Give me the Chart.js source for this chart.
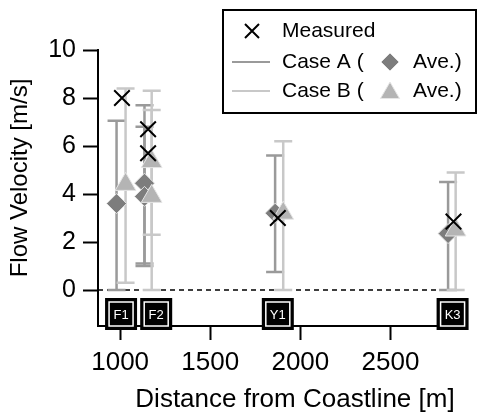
<!DOCTYPE html>
<html>
<head>
<meta charset="utf-8">
<script src="https://cdn.jsdelivr.net/npm/chart.js@4"></script>
<style>
  body { margin: 0; background: #fff; }
  #wrap { width: 480px; height: 413px; }
</style>
</head>
<body>
<div id="wrap"><canvas id="flowChart" width="480" height="413"></canvas></div>
<script>
// Dados
const measDist = [1010, 1155, 1155, 1875, 2850];
const measVel = [8.0, 6.7, 5.7, 3.0, 2.85];

const caseADist = [980, 1135, 1135, 1860, 2820];
const caseAAve = [3.6, 4.45, 3.9, 3.2, 2.35];
const caseAMin = [0, 1.1, 1.0, 0.75, 0];
const caseAMax = [7.05, 7.7, 6.8, 5.6, 4.5];

const caseBDist = [1030, 1175, 1175, 1905, 2862];
const caseBAve = [4.4, 5.35, 3.9, 3.2, 2.5];
const caseBMin = [0.3, 2.3, 0, 0, 0];
const caseBMax = [8.4, 8.3, 7.5, 6.2, 4.9];

const stationNames = ['F1', 'F2', 'Y1', 'K3'];
const stationDist = [1005, 1200, 1875, 2845];

const xTicks = [1000, 1500, 2000, 2500];
const yTicks = [0, 2, 4, 6, 8, 10];

const FONT = "'Liberation Sans', Arial, sans-serif";
const colorA = '#7d7d7d', colorABar = '#9a9a9a';
const colorB = '#b4b4b4', colorBBar = '#c8c8c8';

function toPoints(xs, ys) {
    return xs.map((x, i) => ({ x: x, y: ys[i] }));
}

// Barras de erro (min-max) desenhadas pelas escalas
const errorBars = {
    id: 'errorBars',
    beforeDatasetsDraw(chart) {
        const { ctx, scales: { x, y } } = chart;
        const draw = (dist, lo, hi, color) => {
            ctx.save();
            ctx.strokeStyle = color;
            ctx.lineWidth = 2.5;
            dist.forEach((d, i) => {
                const px = x.getPixelForValue(d);
                const y1 = y.getPixelForValue(lo[i]);
                const y2 = y.getPixelForValue(hi[i]);
                ctx.beginPath();
                ctx.moveTo(px, y1); ctx.lineTo(px, y2);
                ctx.moveTo(px - 9, y1); ctx.lineTo(px + 9, y1);
                ctx.moveTo(px - 9, y2); ctx.lineTo(px + 9, y2);
                ctx.stroke();
            });
            ctx.restore();
        };
        // linha tracejada no zero
        ctx.save();
        ctx.strokeStyle = '#000';
        ctx.lineWidth = 1.5;
        ctx.setLineDash([5, 4]);
        const y0 = y.getPixelForValue(0);
        ctx.beginPath();
        ctx.moveTo(chart.chartArea.left, y0);
        ctx.lineTo(chart.chartArea.right, y0);
        ctx.stroke();
        ctx.restore();
        draw(caseADist, caseAMin, caseAMax, colorABar);
        draw(caseBDist, caseBMin, caseBMax, colorBBar);
    }
};

// Etiquetas das estações, títulos dos eixos e legenda
const extras = {
    id: 'extras',
    afterDraw(chart) {
        const { ctx, scales: { x, y } } = chart;
        ctx.save();
        const cy = y.getPixelForValue(-1);
        stationNames.forEach((name, i) => {
            const cx = x.getPixelForValue(stationDist[i]);
            ctx.fillStyle = '#000';
            ctx.fillRect(cx - 16, cy - 16, 32, 32);
            ctx.strokeStyle = '#fff';
            ctx.lineWidth = 1.5;
            ctx.strokeRect(cx - 12, cy - 12, 24, 24);
            ctx.fillStyle = '#fff';
            ctx.font = '13px ' + FONT;
            ctx.textAlign = 'center';
            ctx.textBaseline = 'middle';
            ctx.fillText(name, cx, cy + 1);
        });

        // títulos
        ctx.fillStyle = '#000';
        ctx.textAlign = 'center';
        ctx.textBaseline = 'middle';
        ctx.font = '26px ' + FONT;
        ctx.fillText('Distance from Coastline [m]', 295, 400);
        ctx.save();
        ctx.translate(20, 178);
        ctx.rotate(-Math.PI / 2);
        ctx.font = '24px ' + FONT;
        ctx.fillText('Flow Velocity [m/s]', 0, 0);
        ctx.restore();

        // legenda
        const lx = 223, ly = 10, lw = 253, lh = 103;
        ctx.fillStyle = '#fff';
        ctx.fillRect(lx, ly, lw, lh);
        ctx.strokeStyle = '#000';
        ctx.lineWidth = 2;
        ctx.strokeRect(lx, ly, lw, lh);
        ctx.font = '21px ' + FONT;
        ctx.textBaseline = 'middle';
        ctx.textAlign = 'left';
        ctx.fillStyle = '#000';
        const rows = [31, 62, 91];
        // Measured
        ctx.lineWidth = 2;
        ctx.beginPath();
        ctx.moveTo(245, rows[0] - 7); ctx.lineTo(259, rows[0] + 7);
        ctx.moveTo(259, rows[0] - 7); ctx.lineTo(245, rows[0] + 7);
        ctx.stroke();
        ctx.fillText('Measured', 282, rows[0]);
        // Case A / B
        [[colorABar, colorA, 'Case A (', 'rectRot'], [colorBBar, colorB, 'Case B (', 'triangle']].forEach((it, k) => {
            const ry = rows[k + 1];
            ctx.strokeStyle = it[0];
            ctx.beginPath();
            ctx.moveTo(232, ry); ctx.lineTo(270, ry);
            ctx.stroke();
            ctx.fillStyle = '#000';
            ctx.fillText(it[2], 282, ry);
            ctx.fillStyle = it[1];
            ctx.strokeStyle = '#e6e6e6';
            ctx.lineWidth = 1;
            Chart.helpers.drawPoint(ctx, { pointStyle: it[3], radius: it[3] === 'triangle' ? 11 : 9, borderWidth: 1 }, 390, ry + (it[3] === 'triangle' ? 2 : 0));
            ctx.fillStyle = '#000';
            ctx.fillText('Ave.)', 413, ry);
            ctx.lineWidth = 2;
        });
        ctx.restore();
    }
};

const ctx = document.getElementById('flowChart').getContext('2d');
const flowChart = new Chart(ctx, {
    type: 'scatter',
    data: {
        datasets: [
            {
                label: 'Measured',
                data: toPoints(measDist, measVel),
                pointStyle: 'crossRot',
                pointRadius: 11,
                borderColor: '#000',
                borderWidth: 2,
                order: 0,
                clip: false
            },
            {
                label: 'Case B',
                data: toPoints(caseBDist, caseBAve),
                pointStyle: 'triangle',
                pointRadius: 12,
                backgroundColor: colorB,
                borderColor: '#e6e6e6',
                borderWidth: 1,
                order: 1,
                clip: false
            },
            {
                label: 'Case A',
                data: toPoints(caseADist, caseAAve),
                pointStyle: 'rectRot',
                pointRadius: 10,
                backgroundColor: colorA,
                borderColor: '#e6e6e6',
                borderWidth: 1,
                order: 2,
                clip: false
            }
        ]
    },
    options: {
        responsive: false,
        animation: false,
        layout: { padding: { top: 50, left: 0, right: 0, bottom: 0 } },
        plugins: { legend: { display: false }, tooltip: { enabled: false } },
        scales: {
            x: {
                type: 'linear',
                min: 877,
                max: 2925,
                afterBuildTicks: s => { s.ticks = xTicks.map(v => ({ value: v })); },
                afterFit: s => { s.height = 87; },
                grid: { drawOnChartArea: false, tickLength: 14, tickWidth: 2, tickColor: '#000' },
                border: { color: '#000', width: 2 },
                ticks: { color: '#000', font: { family: FONT, size: 26 }, padding: 7, maxRotation: 0, callback: v => String(v) }
            },
            y: {
                min: -1.5,
                max: 10,
                afterBuildTicks: s => { s.ticks = yTicks.map(v => ({ value: v })); },
                afterFit: s => { s.width = 98; },
                grid: { drawOnChartArea: false, tickLength: 15, tickWidth: 2, tickColor: '#000' },
                border: { color: '#000', width: 2 },
                ticks: { color: '#000', font: { family: FONT, size: 25 }, padding: 7, callback: v => String(v) }
            }
        }
    },
    plugins: [errorBars, extras]
});
</script>
</body>
</html>
